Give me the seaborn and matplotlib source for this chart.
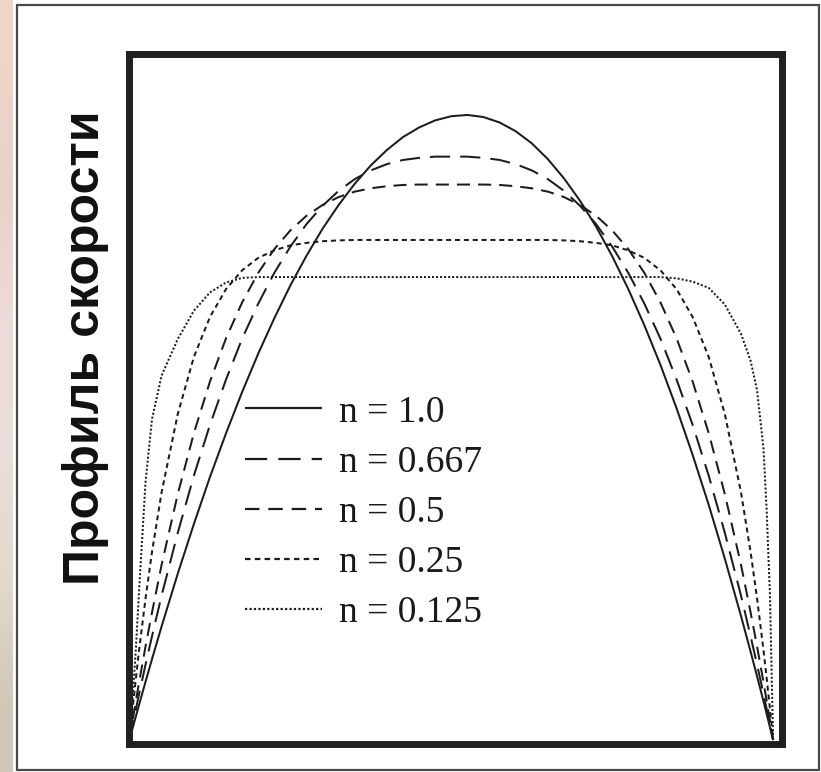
import numpy as np
import pandas as pd
import matplotlib
matplotlib.use("Agg")
import matplotlib.pyplot as plt
from matplotlib.patches import Rectangle
from matplotlib.font_manager import FontProperties
import seaborn as sns

# ---- data ----
X = [-1, -0.99, -0.98, -0.97, -0.95, -0.93, -0.9, -0.85, -0.8, -0.75, -0.7, -0.65, -0.6,
     -0.55, -0.5, -0.45, -0.4, -0.35, -0.3, -0.25, -0.2, -0.15, -0.1, -0.05, 0,
     0.05, 0.1, 0.15, 0.2, 0.25, 0.3, 0.35, 0.4, 0.45, 0.5, 0.55, 0.6, 0.65,
     0.7, 0.75, 0.8, 0.85, 0.9, 0.93, 0.95, 0.97, 0.98, 0.99, 1]

V_N100 = [0, 0.029, 0.057, 0.085, 0.140, 0.194, 0.273, 0.399, 0.518, 0.631, 0.736, 0.835,
          0.927, 1.012, 1.091, 1.162, 1.227, 1.284, 1.335, 1.379, 1.416, 1.447, 1.470,
          1.487, 1.497,
          1.500, 1.495, 1.482, 1.461, 1.432, 1.394, 1.348, 1.294, 1.232, 1.161, 1.082,
          0.995, 0.900, 0.796, 0.684, 0.564, 0.435, 0.298, 0.212, 0.153, 0.093, 0.062,
          0.031, 0]
V_N0667 = [0, 0.037, 0.074, 0.111, 0.181, 0.249, 0.347, 0.497, 0.634, 0.756, 0.865, 0.963,
           1.047, 1.121, 1.184, 1.238, 1.282, 1.318, 1.346, 1.367, 1.382, 1.392, 1.397,
           1.400, 1.400,
           1.400, 1.397, 1.392, 1.382, 1.367, 1.346, 1.318, 1.282, 1.238, 1.184, 1.121,
           1.047, 0.963, 0.865, 0.756, 0.634, 0.497, 0.347, 0.249, 0.181, 0.111, 0.074,
           0.037, 0]
V_N05 = [0, 0.047, 0.094, 0.139, 0.225, 0.306, 0.421, 0.590, 0.736, 0.860, 0.964, 1.050,
         1.121, 1.178, 1.223, 1.258, 1.284, 1.303, 1.316, 1.324, 1.329, 1.332, 1.333,
         1.333, 1.333,
         1.333, 1.333, 1.332, 1.329, 1.324, 1.316, 1.303, 1.284, 1.258, 1.223, 1.178,
         1.121, 1.050, 0.964, 0.860, 0.736, 0.590, 0.421, 0.306, 0.225, 0.139, 0.094,
         0.047, 0]
V_N025 = [0, 0.076, 0.148, 0.216, 0.340, 0.451, 0.595, 0.782, 0.919, 1.015, 1.082, 1.127,
          1.157, 1.175, 1.187, 1.193, 1.197, 1.199, 1.200, 1.200, 1.200, 1.200, 1.200,
          1.200, 1.200,
          1.200, 1.200, 1.200, 1.200, 1.200, 1.200, 1.199, 1.197, 1.193, 1.187, 1.175,
          1.157, 1.127, 1.082, 1.015, 0.919, 0.782, 0.595, 0.451, 0.340, 0.216, 0.148,
          0.076, 0]
V_N0125 = [0, 0.100, 0.220, 0.360, 0.620, 0.770, 0.875, 0.962, 1.030, 1.074, 1.098, 1.109,
           1.111, 1.111, 1.111, 1.111, 1.111, 1.111, 1.111, 1.111, 1.111, 1.111, 1.111,
           1.111, 1.111,
           1.111, 1.111, 1.111, 1.111, 1.111, 1.111, 1.111, 1.111, 1.111, 1.111, 1.111,
           1.111, 1.111, 1.108, 1.100, 1.085, 1.045, 0.975, 0.910, 0.840, 0.700, 0.550,
           0.350, 0]

LABELS = ["n = 1.0", "n = 0.667", "n = 0.5", "n = 0.25", "n = 0.125"]
SERIES = [V_N100, V_N0667, V_N05, V_N025, V_N0125]
YLABEL = "Профиль скорости"

# ---- styling ----
LW = 1.45
DASHES = {
    "n = 1.0": "",
    "n = 0.667": (10.0, 5.0),
    "n = 0.5": (6.5, 4.0),
    "n = 0.25": (2.5, 1.9),
    "n = 0.125": (1.0, 1.0),
}
LINE_COLOR = "#1c1c1c"

df = pd.concat(
    [pd.DataFrame({"x": X, "v": s, "n": lab}) for lab, s in zip(LABELS, SERIES)],
    ignore_index=True,
)

sns.set_theme(style="white")
plt.rcParams["font.family"] = ["Liberation Sans", "DejaVu Sans"]

W, H = 821, 772
fig = plt.figure(figsize=(W / 100, H / 100), dpi=100)
fig.patch.set_facecolor("white")

# white panel with thin border (behind everything)
fig.patches.append(Rectangle((17 / W, 2 / H), (819 - 17) / W, (767 - 2) / H,
                             transform=fig.transFigure, facecolor="white",
                             edgecolor="#4a4a4a", linewidth=1.6, zorder=-10))

# slide background strip on the left
bg = fig.add_axes([0, 0, 13 / W, 1])
grad = np.array([
    [0.93, 0.84, 0.78], [0.91, 0.82, 0.79], [0.93, 0.86, 0.85],
    [0.92, 0.87, 0.86], [0.89, 0.85, 0.80], [0.82, 0.78, 0.72],
])[:, None, :]
bg.imshow(grad, aspect="auto", interpolation="bilinear", extent=[0, 1, 0, 1])
bg.set_axis_off()

ax = fig.add_axes([128.5 / W, 1 - 744 / H, 653 / W, (744 - 53.5) / H])
ax.set_zorder(5)
sns.lineplot(data=df, x="x", y="v", style="n", style_order=LABELS, dashes=DASHES,
             color=LINE_COLOR, linewidth=LW, sort=False, estimator=None, ax=ax)

for ln in ax.get_lines():
    ln.set_solid_capstyle("butt")
    ln.set_dash_capstyle("butt")
    ln.set_solid_joinstyle("round")

ax.set_xlim(-1.003, 1.026)
ax.set_ylim(-0.0096, 1.6475)
ax.set_xticks([])
ax.set_yticks([])
ax.set_xlabel("")
ax.set_ylabel(YLABEL, fontsize=36, fontweight="bold", color="#111111",
              va="center", ha="center")
ax.yaxis.set_label_coords((85 - 128.5) / 653, (744 - 348) / 690.5)
for sp in ax.spines.values():
    sp.set_visible(True)
    sp.set_linewidth(5.0)
    sp.set_color("#202020")

handles, labels = ax.get_legend_handles_labels()
hmap = dict(zip(labels, handles))
hs = [hmap[l] for l in LABELS]
for h in hs:
    h.set_linewidth(1.6)
    h.set_color(LINE_COLOR)
leg = ax.legend(hs, LABELS, loc="upper left",
                bbox_to_anchor=((245 - 128.5) / 653, (744 - 395) / 690.5),
                frameon=False, prop=FontProperties(family="Liberation Serif", size=27),
                handlelength=2.05, handletextpad=0.45, labelspacing=0.42,
                borderpad=0, borderaxespad=0)
for t in leg.get_texts():
    t.set_color("#1a1a1a")

fig.savefig("out.png", dpi=100, facecolor=fig.get_facecolor())
